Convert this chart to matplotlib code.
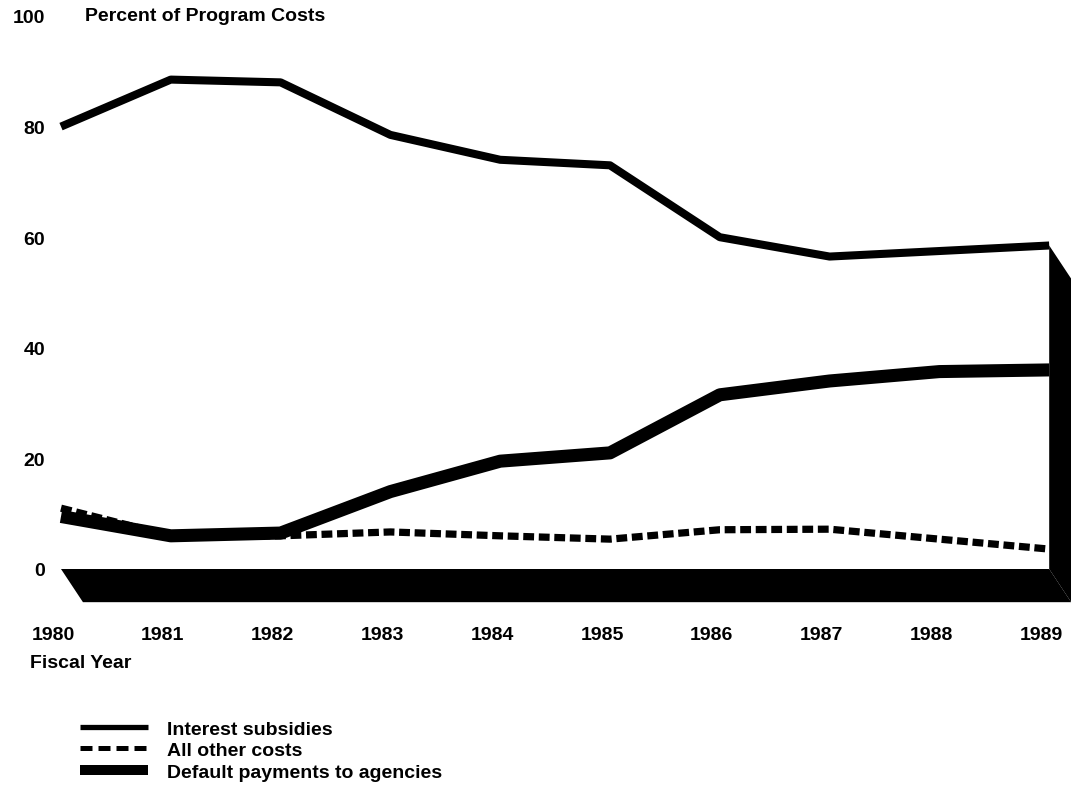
import matplotlib.pyplot as plt
from matplotlib.lines import Line2D
import matplotlib.transforms as mtransforms

# values (percent of program costs)
years = [1980, 1981, 1982, 1983, 1984, 1985, 1986, 1987, 1988, 1989]
interest = [80, 88.5, 88, 78.5, 74, 73, 60, 56.5, 57.5, 58.5]
default_pay = [9.5, 6, 6.5, 14, 19.5, 21, 31.5, 34, 35.7, 36]
other = [11, 6, 6, 6.7, 6, 5.4, 7.1, 7.2, 5.4, 3.6]
y_ticks = [0, 20, 40, 60, 80, 100]
labels = ["Interest subsidies", "All other costs", "Default payments to agencies"]

plt.rcParams['font.family'] = ['Liberation Sans', 'DejaVu Sans']
plt.rcParams['font.weight'] = 'bold'

W, H = 1071, 803
fig = plt.figure(figsize=(W / 100, H / 100), dpi=100)
ax = fig.add_axes([50 / W, (H - 620) / H, (W - 50) / W, 620 / H])

px_year = 109.8
px_pct = 5.53
ax.set_xlim(years[0] - 11 / px_year, years[0] + 1010 / px_year)
ax.set_ylim(-50 / px_pct, 570 / px_pct)

# fake 3d floor and right wall
dx, dy = 0.2, 6
ax.fill([years[0], years[-1], years[-1] + dx, years[0] + dx], [0, 0, -dy, -dy],
        color='black', lw=0)
ax.fill([years[-1], years[-1] + dx, years[-1] + dx, years[-1]],
        [interest[-1], interest[-1] - dy, -dy, 0], color='black', lw=0)

ax.plot(years, interest, color='black', lw=5.8, solid_capstyle='butt', solid_joinstyle='round')
ax.plot(years, default_pay, color='black', lw=9.4, solid_capstyle='butt', solid_joinstyle='round')
ax.plot(years, other, color='black', lw=5.2, linestyle=(0, (1.5, 0.65)), dash_capstyle='butt')

for s in ax.spines.values():
    s.set_visible(False)
ax.set_xticks(years)
ax.set_yticks(y_ticks)
ax.tick_params(length=0, labelsize=14)
ax.tick_params(axis='y', pad=3.6)
ax.tick_params(axis='x', pad=5)
offset = mtransforms.ScaledTranslation(-8 / 100, 0, fig.dpi_scale_trans)
for lbl in ax.get_xticklabels():
    lbl.set_transform(lbl.get_transform() + offset)

ax.annotate("Percent of Program Costs", xy=(85, 100), xycoords=('figure pixels', 'data'),
            ha='left', va='center', fontsize=14)
fig.text(30 / W, 1 - 664 / H, "Fiscal Year", ha='left', va='center', fontsize=14)

handles = [
    Line2D([], [], color='black', lw=3.8, solid_capstyle='butt'),
    Line2D([], [], color='black', lw=3.6, linestyle=(0, (2.4, 1.2)), dash_capstyle='butt'),
    Line2D([], [], color='black', lw=7.2, solid_capstyle='butt'),
]
fig.legend(handles, labels, loc='upper left', bbox_to_anchor=(80 / W, 1 - 721 / H),
           frameon=False, borderpad=0, borderaxespad=0, handlelength=3.5,
           handletextpad=0.95, labelspacing=0.2, fontsize=14)

fig.savefig("out.png", dpi=100)
